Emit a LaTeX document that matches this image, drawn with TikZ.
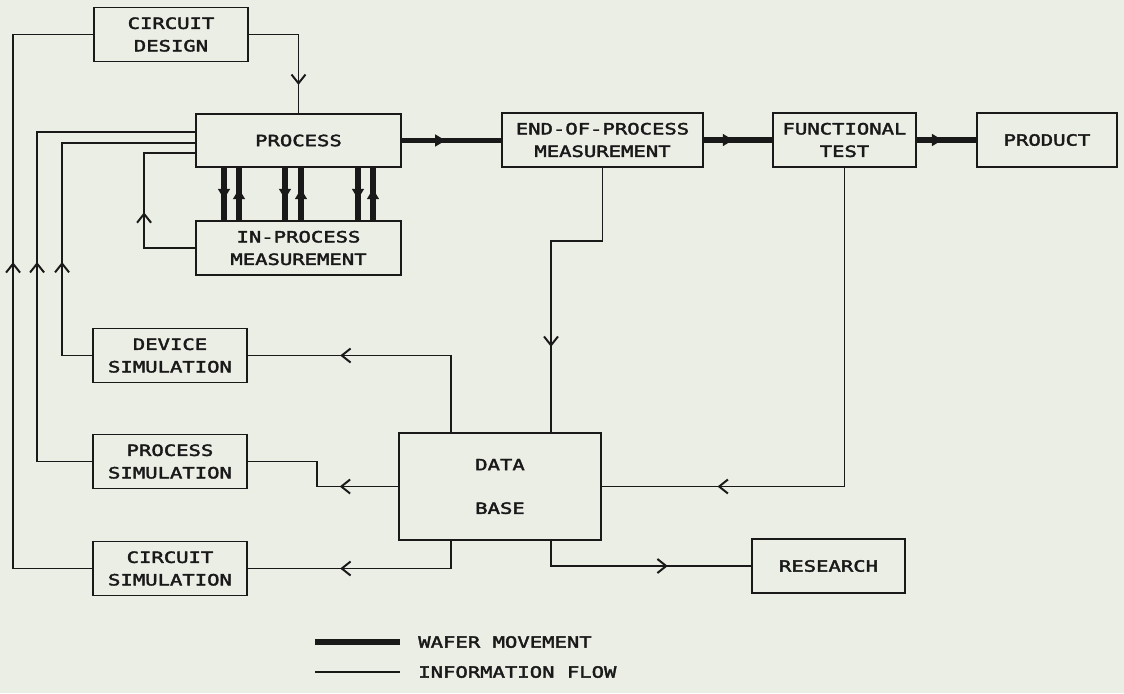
\documentclass[tikz,border=0pt]{standalone}
\usepackage{fontspec}
\newfontfamily\plotfont[FakeStretch=1.33,FakeBold=2.5]{DejaVu Sans Mono}
\usepackage{tikz}
\usetikzlibrary{arrows.meta, decorations.markings, calc}
\definecolor{paper}{RGB}{234,238,229}
\definecolor{ink}{RGB}{25,25,25}

\begin{document}
\begin{tikzpicture}[x=0.025cm, y=-0.025cm,
  font=\plotfont\fontsize{11}{16}\selectfont,
  box/.style={draw=ink, text=ink, line width=1.3pt, inner sep=0pt, align=center, minimum height=1.35cm},
  info/.style={color=ink, line width=1.4pt, postaction={decorate},
    decoration={markings, mark=at position #1 with {\arrow{Straight Barb[length=2.2mm,width=3.5mm]}}}},
  wafer/.style={color=ink, line width=4pt, postaction={decorate},
    decoration={markings, mark=at position #1 with {\arrow{Triangle[length=2.6mm,width=2.9mm]}}}}]
  \fill[paper] (0,0) rectangle (1124,693);
  \useasboundingbox (0,0) rectangle (1124,693);

  \node[box, minimum width=3.85cm] (design) at (171,34.5) {CIRCUIT\\DESIGN};
  \node[box, minimum width=5.125cm, minimum height=1.325cm] (process) at (298.5,140.5) {PROCESS};
  \node[box, minimum width=5.125cm] (inproc) at (298.5,248) {IN-PROCESS\\MEASUREMENT};
  \node[box, minimum width=5.025cm] (eop) at (602.5,140) {END-OF-PROCESS\\MEASUREMENT};
  \node[box, minimum width=3.575cm] (ftest) at (844.5,140) {FUNCTIONAL\\TEST};
  \node[box, minimum width=3.5cm] (product) at (1047,140) {PRODUCT};
  \node[box, minimum width=3.85cm] (devsim) at (170,355.5) {DEVICE\\SIMULATION};
  \node[box, minimum width=3.85cm] (procsim) at (170,461.5) {PROCESS\\SIMULATION};
  \node[box, minimum width=3.85cm] (circsim) at (170,568.5) {CIRCUIT\\SIMULATION};
  \node[box, minimum width=5.05cm, minimum height=2.675cm] (database) at (500,486.5) {DATA\\[15pt]BASE};
  \node[box, minimum width=3.825cm] (research) at (828.5,566) {RESEARCH};

  \draw[wafer=0.44] (process.east) -- (process.east -| eop.west);
  \draw[wafer=0.43] (eop.east) -- (ftest.west);
  \draw[wafer=0.43] (ftest.east) -- (product.west);
  \foreach \dn/\up in {-74.5/-59.5, -13.5/2.5, 59.5/74.5}{
    \draw[wafer=0.6] ($(process.south)+(\dn,0)$) -- ($(inproc.north)+(\dn,0)$);
    \draw[wafer=0.6] ($(inproc.north)+(\up,0)$) -- ($(process.south)+(\up,0)$);
  }

  \draw[info=0.78] (design.east) -| (process.north);
  \draw[info=0.556] (circsim.west) -- ++(-79,0) |- (design.west);
  \draw[info=0.469] (procsim.west) -- ++(-55,0) |- ($(process.west)+(0,-8.5)$);
  \draw[info=0.329] (devsim.west) -- ++(-30,0) |- ($(process.west)+(0,2.5)$);
  \draw[info=0.44] (inproc.west) -- ++(-51,0) |- ($(process.west)+(0,12.5)$);
  \draw[info=0.73] (eop.south) -- ++(0,73) -| ($(database.north)+(51,0)$);
  \draw[info=0.794] (ftest.south) |- (database.east);
  \draw[info=0.67] ($(database.north)+(-49,0)$) |- (devsim.east);
  \draw[info=0.333] (database.west) -- ++(-81,0) |- (procsim.east);
  \draw[info=0.6] ($(database.south)+(-49,0)$) |- (circsim.east);
  \draw[info=0.63] ($(database.south)+(51,0)$) |- (research.west);

  \coordinate (wafA) at (315,642);
  \coordinate (wafB) at (400,642);
  \coordinate (infA) at (315,672);
  \coordinate (infB) at (400,672);
  \draw[ink, line width=4pt] (wafA) -- (wafB);
  \draw[ink, line width=1.4pt] (infA) -- (infB);
  \node[anchor=west, inner sep=0pt, text=ink] (waferlbl) at (418,642) {WAFER MOVEMENT};
  \node[anchor=west, inner sep=0pt, text=ink] (infolbl) at (418,672) {INFORMATION FLOW};
\end{tikzpicture}
\end{document}
